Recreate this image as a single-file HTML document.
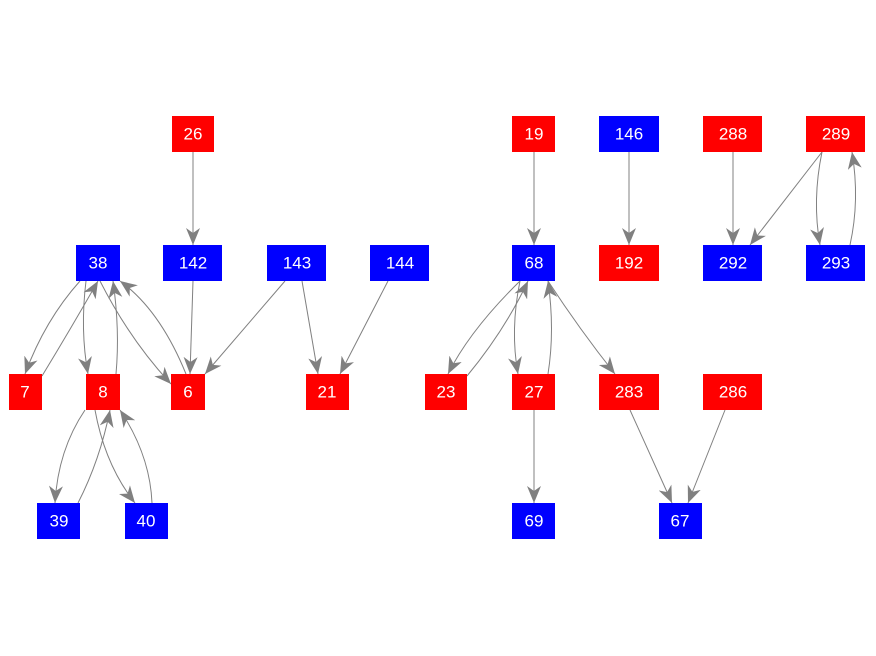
<!DOCTYPE html>
<html><head><style>
html,body{margin:0;padding:0;background:#fff;}
svg{display:block;}
text{font-family:"Liberation Sans",Arial,sans-serif;font-size:17px;fill:#fff;text-anchor:middle;dominant-baseline:central;}
</style></head><body>
<svg width="876" height="656" viewBox="0 0 876 656">
<defs>
<marker id="a" markerUnits="userSpaceOnUse" markerWidth="18" markerHeight="14" refX="17" refY="7" orient="auto">
<path d="M0,0 L17,7 L0,14 L5,7 z" fill="#808080"/>
</marker>
</defs>
<g fill="none" stroke="#808080" stroke-width="1" marker-end="url(#a)">
<path d="M193,152 L193,245"/>
<path d="M534,152 L534,245"/>
<path d="M629,152 L629,245"/>
<path d="M733,152 L733,245"/>
<path d="M822,152 L750,245"/>
<path d="M822,152 Q812,200 820,245"/>
<path d="M850,245 Q860,200 852,152"/>
<path d="M80,281 Q45,320 25,374"/>
<path d="M42,376 Q70,330 98,281"/>
<path d="M86,281 Q80,330 88,374"/>
<path d="M116,374 Q120,330 113,281"/>
<path d="M100,281 Q130,340 171,384"/>
<path d="M186,374 Q160,310 120,281"/>
<path d="M193,281 L190,374"/>
<path d="M285,281 L205,374"/>
<path d="M302,281 L318,374"/>
<path d="M388,281 L340,374"/>
<path d="M85,410 Q58,450 55,503"/>
<path d="M78,503 Q100,460 110,410"/>
<path d="M95,410 Q105,465 135,503"/>
<path d="M152,503 Q150,455 120,410"/>
<path d="M520,281 Q470,330 448,374"/>
<path d="M467,376 Q505,330 528,281"/>
<path d="M520,281 Q510,330 518,374"/>
<path d="M548,374 Q555,330 548,281"/>
<path d="M548,281 Q580,330 615,374"/>
<path d="M534,410 L534,503"/>
<path d="M630,410 L672,503"/>
<path d="M725,410 L688,503"/>
</g>
<g>
<rect x="172" y="116" width="42" height="36" fill="#f00"/><text x="193" y="134">26</text>
<rect x="512" y="116" width="43" height="36" fill="#f00"/><text x="534" y="134">19</text>
<rect x="599" y="116" width="60" height="36" fill="#00f"/><text x="629" y="134">146</text>
<rect x="703" y="116" width="59" height="36" fill="#f00"/><text x="733" y="134">288</text>
<rect x="806" y="116" width="59" height="36" fill="#f00"/><text x="836" y="134">289</text>
<rect x="76" y="245" width="44" height="36" fill="#00f"/><text x="98" y="263">38</text>
<rect x="163" y="245" width="59" height="36" fill="#00f"/><text x="193" y="263">142</text>
<rect x="267" y="245" width="59" height="36" fill="#00f"/><text x="297" y="263">143</text>
<rect x="370" y="245" width="59" height="36" fill="#00f"/><text x="400" y="263">144</text>
<rect x="512" y="245" width="43" height="36" fill="#00f"/><text x="534" y="263">68</text>
<rect x="599" y="245" width="60" height="36" fill="#f00"/><text x="629" y="263">192</text>
<rect x="703" y="245" width="59" height="36" fill="#00f"/><text x="733" y="263">292</text>
<rect x="806" y="245" width="59" height="36" fill="#00f"/><text x="836" y="263">293</text>
<rect x="9" y="374" width="33" height="36" fill="#f00"/><text x="25" y="392">7</text>
<rect x="86" y="374" width="34" height="36" fill="#f00"/><text x="103" y="392">8</text>
<rect x="171" y="374" width="34" height="36" fill="#f00"/><text x="188" y="392">6</text>
<rect x="306" y="374" width="43" height="36" fill="#f00"/><text x="327" y="392">21</text>
<rect x="425" y="374" width="42" height="36" fill="#f00"/><text x="446" y="392">23</text>
<rect x="512" y="374" width="43" height="36" fill="#f00"/><text x="534" y="392">27</text>
<rect x="599" y="374" width="60" height="36" fill="#f00"/><text x="629" y="392">283</text>
<rect x="703" y="374" width="59" height="36" fill="#f00"/><text x="733" y="392">286</text>
<rect x="37" y="503" width="43" height="36" fill="#00f"/><text x="59" y="521">39</text>
<rect x="125" y="503" width="43" height="36" fill="#00f"/><text x="146" y="521">40</text>
<rect x="512" y="503" width="43" height="36" fill="#00f"/><text x="534" y="521">69</text>
<rect x="659" y="503" width="43" height="36" fill="#00f"/><text x="680" y="521">67</text>
</g>
</svg>
</body></html>
